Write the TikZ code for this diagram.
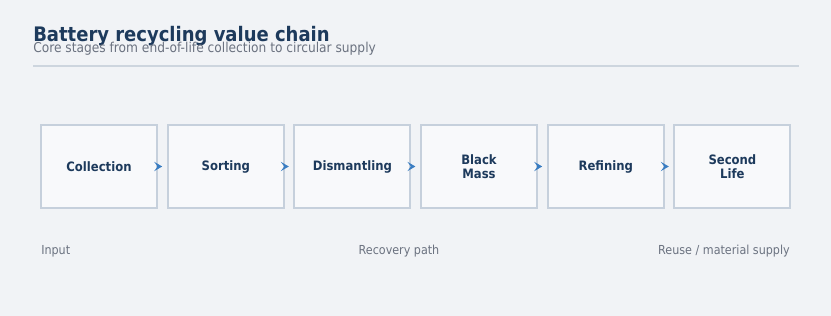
\documentclass[tikz,border=0pt]{standalone}
\usepackage{fontspec}
\setmainfont{DejaVu Sans Condensed}
\usetikzlibrary{arrows.meta}
\definecolor{bg}{HTML}{F1F3F6}
\definecolor{boxfill}{HTML}{F8F9FB}
\definecolor{boxline}{HTML}{C6D0DC}
\definecolor{titlecol}{HTML}{1D3A5C}
\definecolor{subcol}{HTML}{6B7280}
\definecolor{rulecol}{HTML}{CDD5DE}
\definecolor{arrowcol}{HTML}{3A7DC2}
\tikzset{
  stagebox/.style={draw=boxline, line width=1.4pt, fill=boxfill, minimum width=116*0.75pt, minimum height=83*0.75pt, inner sep=0pt, align=center, text=titlecol, font=\fontsize{9.7pt}{10.5pt}\selectfont\bfseries},
  flowarrow/.style={draw=arrowcol, line width=1.2pt, -{Stealth[length=6pt,width=7pt,inset=2.6pt]}},
  footlabel/.style={text=subcol, font=\fontsize{9.3pt}{11pt}\selectfont, inner sep=0pt}
}
\begin{document}
\begin{tikzpicture}[x=0.75pt,y=-0.75pt]
\fill[bg] (0,0) rectangle (831,316);
\useasboundingbox (0,0) rectangle (831,316);
\node[anchor=base west, inner sep=0pt, text=titlecol, font=\fontsize{15pt}{18pt}\selectfont\bfseries] (title) at (33,41.5) {Battery recycling value chain};
\node[anchor=base west, inner sep=0pt, text=subcol, font=\fontsize{10.2pt}{12pt}\selectfont] (subtitle) at (33,53) {Core stages from end-of-life collection to circular supply};
\coordinate (rl) at (33,66);
\coordinate (rr) at (799,66);
\draw[rulecol, line width=1.5pt] (rl) -- (rr);
\node[stagebox] (s1) at (99,166.5) {Collection};
\node[stagebox] (s2) at (225.8,166.5) {Sorting};
\node[stagebox] (s3) at (352.4,166.5) {Dismantling};
\node[stagebox] (s4) at (479,166.5) {Black\\Mass};
\node[stagebox] (s5) at (605.8,166.5) {Refining};
\node[stagebox] (s6) at (732.4,166.5) {Second\\Life};
\foreach \a/\b in {s1/s2,s2/s3,s3/s4,s4/s5,s5/s6}{
  \draw[flowarrow] ([xshift=-0.5pt]\a.east) -- ([xshift=-3.5pt]\b.west);
}
\node[footlabel, anchor=base west] (in) at (41,254.5) {Input};
\node[footlabel, anchor=base] (rec) at (399,254.5) {Recovery path};
\node[footlabel, anchor=base east] (reuse) at (790,254.5) {Reuse / material supply};
\end{tikzpicture}
\end{document}
